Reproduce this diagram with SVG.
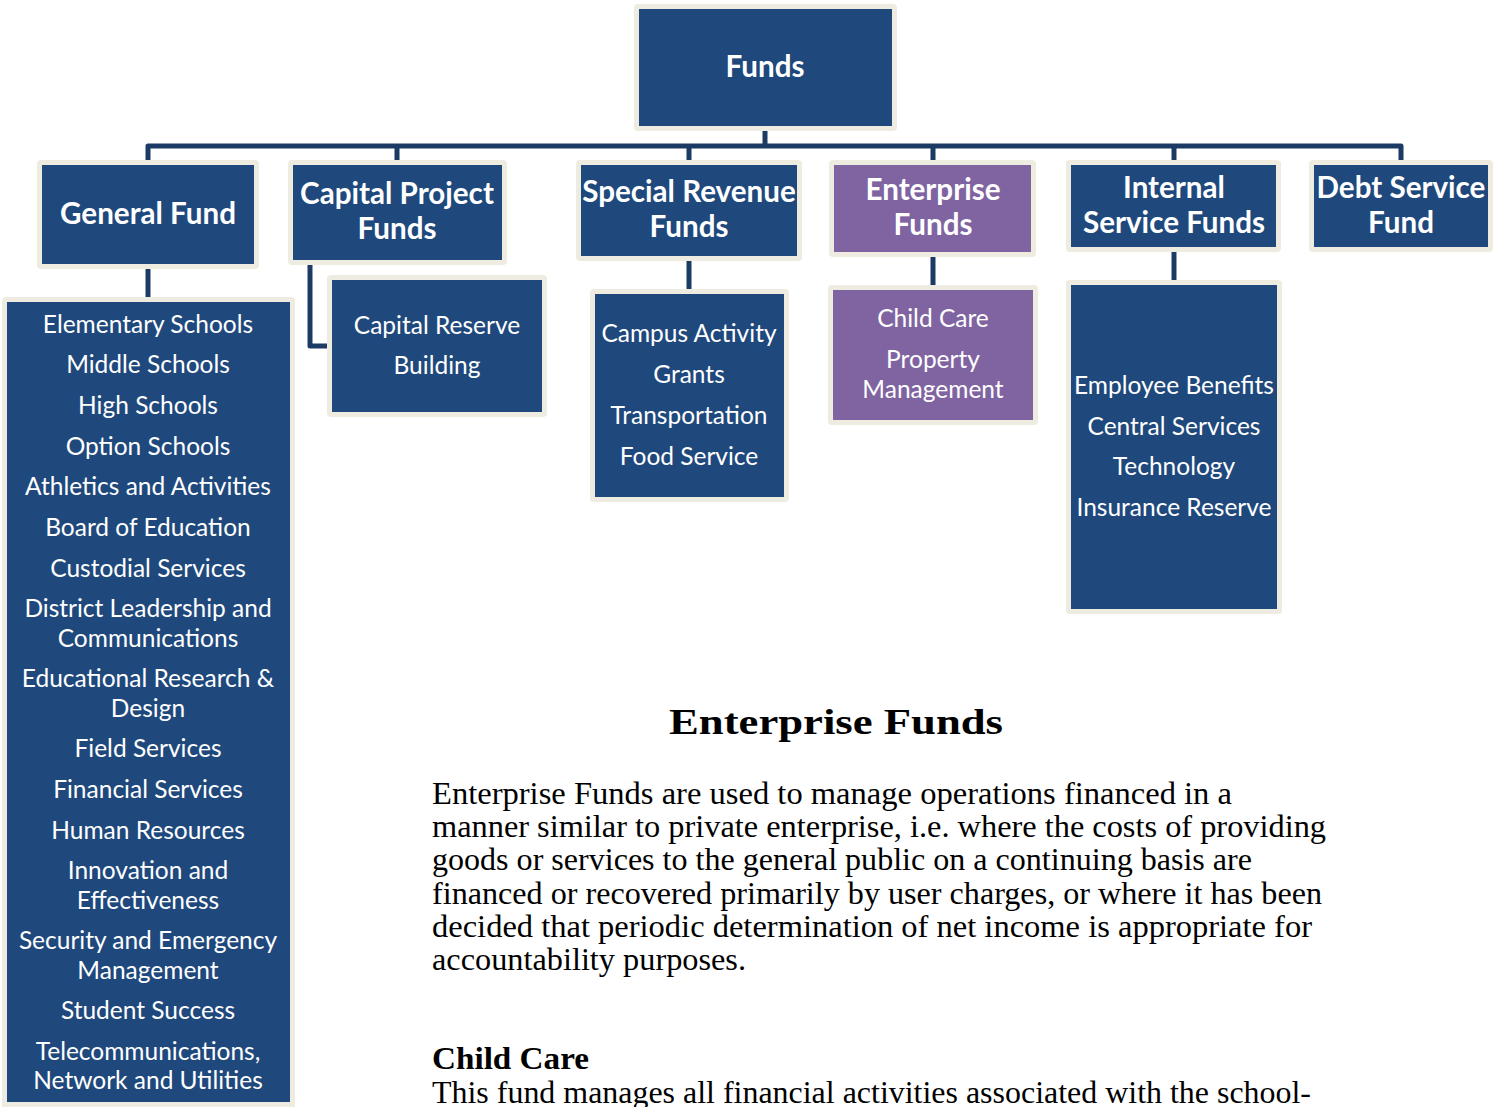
<svg xmlns="http://www.w3.org/2000/svg" width="1499" height="1107" viewBox="0 0 1499 1107">
<style>
.frame{fill:#EEECE1}
.blue{fill:#1F497D}
.purple{fill:#8064A2}
.conn{fill:none;stroke:#1B3B64;stroke-width:5;stroke-linejoin:round}
.h{font-family:Lato,"Open Sans","DejaVu Sans",sans-serif;font-weight:bold;font-size:29.6px;fill:#FFFFFF;text-anchor:middle}
.t{font-family:Lato,"Open Sans","DejaVu Sans",sans-serif;font-size:24.5px;fill:#FFFFFF;text-anchor:middle}
.body{font-family:"Liberation Serif","Times New Roman",serif;font-size:31px;fill:#000000}
.bh{font-family:"Liberation Serif","Times New Roman",serif;font-size:36px;font-weight:bold;fill:#000000}
.bs{font-family:"Liberation Serif","Times New Roman",serif;font-size:31px;font-weight:bold;fill:#000000}
</style>
<rect width="1499" height="1107" fill="#FFFFFF"/>
<g id="connectors">
<path class="conn" d="M765,131 V146"/>
<path class="conn" d="M148,160 V146 H1401 V160"/>
<path class="conn" d="M397,146 V160 M689,146 V160 M933,146 V160 M1174,146 V160"/>
<path class="conn" d="M148,269 V297"/>
<path class="conn" d="M310,265 V346 H327"/>
<path class="conn" d="M689,261 V289"/>
<path class="conn" d="M933,257 V285"/>
<path class="conn" d="M1174,252 V280"/>
</g>
<g id="funds">
<rect class="frame" x="634" y="4" width="263" height="127" rx="4"/>
<rect class="blue" x="639" y="9" width="253" height="117"/>
<text class="h" x="765" y="77">Funds</text>
</g>
<g id="general-fund">
<rect class="frame" x="37" y="160" width="222" height="109" rx="4"/>
<rect class="blue" x="42" y="165" width="212" height="99"/>
<text class="h" x="148" y="224">General Fund</text>
</g>
<g id="capital-project-funds">
<rect class="frame" x="288" y="160" width="219" height="105" rx="4"/>
<rect class="blue" x="293" y="165" width="209" height="95"/>
<text class="h" x="397" y="204">Capital Project</text>
<text class="h" x="397" y="239">Funds</text>
</g>
<g id="special-revenue-funds">
<rect class="frame" x="576" y="160" width="226" height="101" rx="4"/>
<rect class="blue" x="581" y="165" width="216" height="91"/>
<text class="h" x="689" y="202">Special Revenue</text>
<text class="h" x="689" y="237">Funds</text>
</g>
<g id="enterprise-funds">
<rect class="frame" x="829" y="160" width="207" height="97" rx="4"/>
<rect class="purple" x="834" y="165" width="197" height="87"/>
<text class="h" x="933" y="200">Enterprise</text>
<text class="h" x="933" y="235">Funds</text>
</g>
<g id="internal-service-funds">
<rect class="frame" x="1066" y="160" width="215" height="92" rx="4"/>
<rect class="blue" x="1071" y="165" width="205" height="82"/>
<text class="h" x="1174" y="198">Internal</text>
<text class="h" x="1174" y="233">Service Funds</text>
</g>
<g id="debt-service-fund">
<rect class="frame" x="1309" y="160" width="184" height="92" rx="4"/>
<rect class="blue" x="1314" y="165" width="174" height="82"/>
<text class="h" x="1401" y="198">Debt Service</text>
<text class="h" x="1401" y="233">Fund</text>
</g>
<g id="general-fund-list">
<rect class="frame" x="2" y="297" width="293" height="812" rx="4"/>
<rect class="blue" x="7" y="302" width="283" height="800"/>
<text class="t" x="148" y="333">Elementary Schools</text>
<text class="t" x="148" y="373">Middle Schools</text>
<text class="t" x="148" y="414">High Schools</text>
<text class="t" x="148" y="455">Option Schools</text>
<text class="t" x="148" y="495">Athletics and Activities</text>
<text class="t" x="148" y="536">Board of Education</text>
<text class="t" x="148" y="577">Custodial Services</text>
<text class="t" x="148" y="617">District Leadership and</text>
<text class="t" x="148" y="647">Communications</text>
<text class="t" x="148" y="687">Educational Research &amp;</text>
<text class="t" x="148" y="717">Design</text>
<text class="t" x="148" y="757">Field Services</text>
<text class="t" x="148" y="798">Financial Services</text>
<text class="t" x="148" y="839">Human Resources</text>
<text class="t" x="148" y="879">Innovation and</text>
<text class="t" x="148" y="909">Effectiveness</text>
<text class="t" x="148" y="949">Security and Emergency</text>
<text class="t" x="148" y="979">Management</text>
<text class="t" x="148" y="1019">Student Success</text>
<text class="t" x="148" y="1060">Telecommunications,</text>
<text class="t" x="148" y="1089">Network and Utilities</text>
</g>
<g id="capital-reserve">
<rect class="frame" x="327" y="275" width="220" height="142" rx="4"/>
<rect class="blue" x="332" y="280" width="210" height="132"/>
<text class="t" x="437" y="334">Capital Reserve</text>
<text class="t" x="437" y="374">Building</text>
</g>
<g id="special-revenue-list">
<rect class="frame" x="590" y="289" width="199" height="213" rx="4"/>
<rect class="blue" x="595" y="294" width="189" height="203"/>
<text class="t" x="689" y="342">Campus Activity</text>
<text class="t" x="689" y="383">Grants</text>
<text class="t" x="689" y="424">Transportation</text>
<text class="t" x="689" y="465">Food Service</text>
</g>
<g id="enterprise-list">
<rect class="frame" x="828" y="285" width="210" height="140" rx="4"/>
<rect class="purple" x="833" y="290" width="200" height="130"/>
<text class="t" x="933" y="327">Child Care</text>
<text class="t" x="933" y="368">Property</text>
<text class="t" x="933" y="398">Management</text>
</g>
<g id="internal-service-list">
<rect class="frame" x="1066" y="280" width="216" height="334" rx="4"/>
<rect class="blue" x="1071" y="285" width="206" height="324"/>
<text class="t" x="1174" y="394">Employee Benefits</text>
<text class="t" x="1174" y="435">Central Services</text>
<text class="t" x="1174" y="475">Technology</text>
<text class="t" x="1174" y="516">Insurance Reserve</text>
</g>
<g id="description">
<text class="bh" x="669" y="734" textLength="334" lengthAdjust="spacingAndGlyphs">Enterprise Funds</text>
<text class="body" x="432" y="804" textLength="800" lengthAdjust="spacingAndGlyphs">Enterprise Funds are used to manage operations financed in a</text>
<text class="body" x="432" y="837" textLength="894" lengthAdjust="spacingAndGlyphs">manner similar to private enterprise, i.e. where the costs of providing</text>
<text class="body" x="432" y="870" textLength="820" lengthAdjust="spacingAndGlyphs">goods or services to the general public on a continuing basis are</text>
<text class="body" x="432" y="904" textLength="890" lengthAdjust="spacingAndGlyphs">financed or recovered primarily by user charges, or where it has been</text>
<text class="body" x="432" y="937" textLength="880" lengthAdjust="spacingAndGlyphs">decided that periodic determination of net income is appropriate for</text>
<text class="body" x="432" y="970" textLength="314" lengthAdjust="spacingAndGlyphs">accountability purposes.</text>
<text class="bs" x="432" y="1069" textLength="157" lengthAdjust="spacingAndGlyphs">Child Care</text>
<text class="body" x="432" y="1103" textLength="879" lengthAdjust="spacingAndGlyphs">This fund manages all financial activities associated with the school-</text>
</g>
</svg>
